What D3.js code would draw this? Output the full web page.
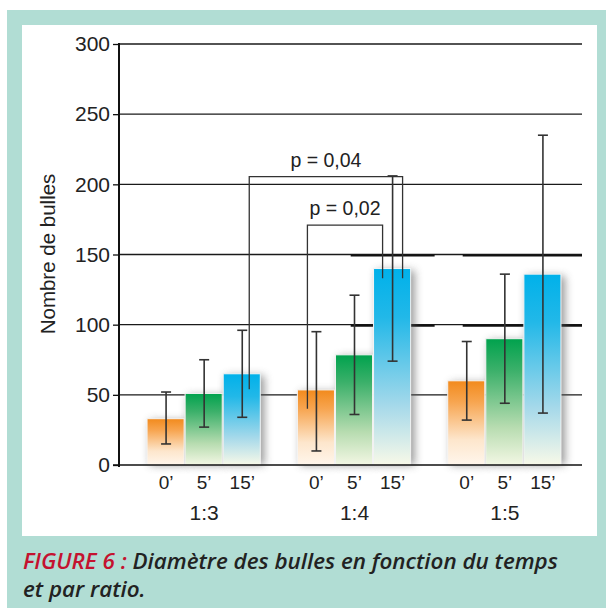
<!DOCTYPE html>
<html>
<head>
<meta charset="utf-8">
<script src="https://cdn.jsdelivr.net/npm/d3@7"></script>
<style>
  body { margin: 0; background: #fff; }
  text { font-family: "Liberation Sans", Arial, sans-serif; fill: #222; }
</style>
</head>
<body>
<svg id="chart" width="606" height="608"></svg>
<script>
// data
var ratios = ["1:3", "1:4", "1:5"];
var times = ["0\u2019", "5\u2019", "15\u2019"];
var yTicks = [0, 50, 100, 150, 200, 250, 300];

var mean0 = [33, 53.5, 60];
var mean5 = [51, 78.5, 90];
var mean15 = [65, 140, 136];

var high0 = [52, 95, 88];
var low0 = [15, 10, 32];
var high5 = [75, 121, 136];
var low5 = [27, 36, 44];
var high15 = [96, 206, 235];
var low15 = [34, 74, 37];

// significance brackets: [ratio, time] of each leg, top value, leg end values
var pLabels = ["p = 0,04", "p = 0,02"];
var pFrom = [["1:3", "15\u2019"], ["1:4", "0\u2019"]];
var pTo = [["1:4", "15\u2019"], ["1:4", "15\u2019"]];
var pTop = [205.5, 171];
var pFromEnd = [54, 40];
var pToEnd = [133, 133];

var svg = d3.select("#chart");

// frame
svg.append("rect").attr("x", 7).attr("y", 10).attr("width", 599).attr("height", 598).attr("fill", "#b1ddd4");
svg.append("rect").attr("x", 22).attr("y", 25).attr("width", 575).attr("height", 511).attr("fill", "#fff");

var x0 = d3.scaleBand().domain(ratios).range([129, 580]).paddingInner(0.24).paddingOuter(0.12);
var x1 = d3.scaleBand().domain(times).range([0, x0.bandwidth()]);
var y = d3.scaleLinear().domain([0, 300]).range([465, 44]);
var xLeft = 119, xRight = 582;

var rows = [];
ratios.forEach(function(r, i) {
    rows.push({ratio: r, time: times[0], key: "o", v: mean0[i], hi: high0[i], lo: low0[i]});
    rows.push({ratio: r, time: times[1], key: "g", v: mean5[i], hi: high5[i], lo: low5[i]});
    rows.push({ratio: r, time: times[2], key: "b", v: mean15[i], hi: high15[i], lo: low15[i]});
});

var defs = svg.append("defs");
var grads = {
    o: ["#f28a1c", "#f7a550", "#fde6cc", "#fff6ec"],
    g: ["#00a24d", "#3bb06a", "#b7dcb0", "#f3f7e4"],
    b: ["#00b1ea", "#22b8e8", "#a6d9ea", "#f8f9e8"]
};
Object.keys(grads).forEach(function(k) {
    var g = defs.append("linearGradient").attr("id", "grad-" + k)
        .attr("x1", 0).attr("y1", 0).attr("x2", 0).attr("y2", 1);
    var offs = [0, 0.25, 0.7, 1];
    grads[k].forEach(function(c, i) {
        g.append("stop").attr("offset", offs[i]).attr("stop-color", c);
    });
});
var f = defs.append("filter").attr("id", "shadow")
    .attr("x", "-40%").attr("y", "-20%").attr("width", "180%").attr("height", "140%");
f.append("feGaussianBlur").attr("stdDeviation", 4);

// gridlines
svg.append("g").selectAll("line")
    .data(yTicks.slice(1))
    .enter().append("line")
    .attr("x1", xLeft).attr("x2", xRight)
    .attr("y1", function(d) { return y(d); })
    .attr("y2", function(d) { return y(d); })
    .attr("stroke", "#1a1a1a").attr("stroke-width", 1.3);

// the heavier stretches at 100 and 150
[100, 150].forEach(function(v) {
    var segs = [[x0("1:4") + x1.bandwidth() * 1.4, x0("1:4") + x0.bandwidth() + 23],
                [x0("1:5") + 15, xRight]];
    segs.forEach(function(s) {
        svg.append("line").attr("x1", s[0]).attr("x2", s[1])
            .attr("y1", y(v) + 1).attr("y2", y(v) + 1)
            .attr("stroke", "#111").attr("stroke-width", 2.2);
    });
});

// bars
var bars = svg.append("g");
bars.selectAll("rect.sh")
    .data(rows)
    .enter().append("rect")
    .attr("class", "sh")
    .attr("x", function(d) { return x0(d.ratio) + x1(d.time) + 3; })
    .attr("y", function(d) { return y(d.v) + 2; })
    .attr("width", x1.bandwidth())
    .attr("height", function(d) { return y(0) - y(d.v) - 2; })
    .attr("fill", "#555").attr("opacity", 0.6)
    .attr("filter", "url(#shadow)");

bars.selectAll("rect.bar")
    .data(rows)
    .enter().append("rect")
    .attr("class", "bar")
    .attr("x", function(d) { return x0(d.ratio) + x1(d.time); })
    .attr("y", function(d) { return y(d.v); })
    .attr("width", x1.bandwidth() - 1)
    .attr("height", function(d) { return y(0) - y(d.v); })
    .attr("fill", function(d) { return "url(#grad-" + d.key + ")"; })
    .attr("stroke", "#f4f4f4").attr("stroke-width", 1);

// axes
var yAxis = d3.axisLeft(y).tickValues(yTicks).tickSize(6).tickPadding(3);
var ga = svg.append("g").attr("transform", "translate(" + xLeft + ",0)").call(yAxis);
ga.select(".domain").attr("stroke", "#111").attr("stroke-width", 2).attr("d", "M0," + (y(300) - 1) + "V" + (y(0) + 2));
ga.selectAll(".tick line").attr("stroke", "#111").attr("stroke-width", 1.3);
ga.selectAll(".tick text").attr("font-size", 21).attr("fill", "#222")
    .style("font-family", "'Liberation Sans', Arial, sans-serif");

svg.append("line").attr("x1", xLeft - 6).attr("x2", xRight)
    .attr("y1", y(0)).attr("y2", y(0))
    .attr("stroke", "#111").attr("stroke-width", 1.6);

// time labels under each bar
svg.append("g").selectAll("text")
    .data(rows)
    .enter().append("text")
    .attr("x", function(d) { return x0(d.ratio) + x1(d.time) + x1.bandwidth() / 2; })
    .attr("y", 489)
    .attr("text-anchor", "middle")
    .attr("font-size", 19)
    .text(function(d) { return d.time; });

// ratio labels
svg.append("g").selectAll("text")
    .data(ratios)
    .enter().append("text")
    .attr("x", function(d) { return x0(d) + x0.bandwidth() / 2; })
    .attr("y", 520)
    .attr("text-anchor", "middle")
    .attr("font-size", 21)
    .text(function(d) { return d; });

// y label
svg.append("text")
    .attr("transform", "translate(55,254) rotate(-90)")
    .attr("text-anchor", "middle")
    .attr("font-size", 20.5)
    .text("Nombre de bulles");

// significance brackets
function legX(p) { return x0(p[0]) + x1(p[1]) + x1.bandwidth() / 2; }
var legDx = [[7, 10], [-9, -10]];
var br = svg.append("g");
pLabels.forEach(function(lab, i) {
    var xa = legX(pFrom[i]) + legDx[i][0];
    var xb = legX(pTo[i]) + legDx[i][1];
    br.append("path")
        .attr("d", "M" + xa + "," + y(pFromEnd[i]) + "V" + y(pTop[i]) + "H" + xb + "V" + y(pToEnd[i]))
        .attr("fill", "none").attr("stroke", "#333").attr("stroke-width", 1.3);
    br.append("text")
        .attr("x", (xa + xb) / 2)
        .attr("y", y(pTop[i]) - 10)
        .attr("text-anchor", "middle")
        .attr("font-size", 19.5)
        .text(lab);
});

// error bars
var eb = svg.append("g").attr("stroke", "#333").attr("stroke-width", 1.6);
rows.forEach(function(d) {
    var cx = x0(d.ratio) + x1(d.time) + x1.bandwidth() / 2;
    eb.append("line").attr("x1", cx).attr("x2", cx).attr("y1", y(d.hi)).attr("y2", y(d.lo));
    eb.append("line").attr("x1", cx - 5).attr("x2", cx + 5).attr("y1", y(d.hi)).attr("y2", y(d.hi));
    eb.append("line").attr("x1", cx - 5).attr("x2", cx + 5).attr("y1", y(d.lo)).attr("y2", y(d.lo));
});

// caption
var capFont = "'Open Sans', 'Noto Sans', sans-serif";
var cap1 = svg.append("text").attr("x", 23).attr("y", 569)
    .style("font-family", capFont).style("font-style", "italic").style("font-weight", 600)
    .attr("font-size", 22);
cap1.append("tspan").style("fill", "#c4122f").text("FIGURE 6 : ");
cap1.append("tspan").style("fill", "#222").text("Diam\u00e8tre des bulles en fonction du temps");
var k = 535 / cap1.node().getComputedTextLength();
cap1.attr("font-size", 22 * k);
svg.append("text").attr("x", 23).attr("y", 597)
    .style("font-family", capFont).style("font-style", "italic").style("font-weight", 600)
    .attr("font-size", 22 * k).style("fill", "#222")
    .text("et par ratio.");
</script>
</body>
</html>
